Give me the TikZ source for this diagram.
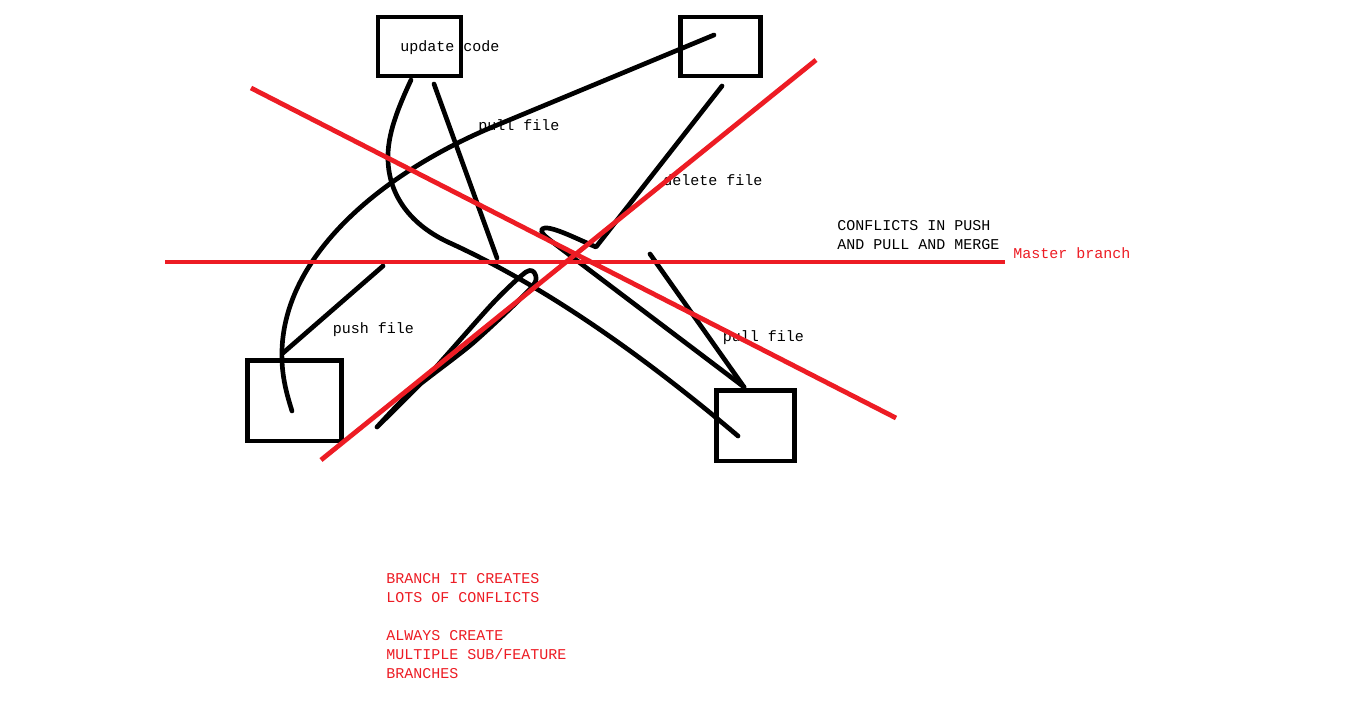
\documentclass[tikz,border=0pt]{standalone}
\usepackage{fontspec}
\setmonofont{Liberation Mono}
\definecolor{paintred}{RGB}{237,28,36}
\begin{document}
\begin{tikzpicture}[x=0.75pt,y=-0.75pt,
  box/.style={draw=black,line width=3.5pt,inner sep=0pt,outer sep=0pt},
  ink/.style={draw=black,line width=3.5pt,line cap=round,line join=round},
  branch/.style={draw=paintred,line width=3.6pt},
  lbl/.style={font=\ttfamily\fontsize{11.25pt}{14.25pt}\selectfont,anchor=base west,inner sep=0pt,text=black},
  rlbl/.style={lbl,text=paintred}]
\useasboundingbox[fill=white] (0,0) rectangle (1355,716);

% labels (the strokes are drawn over them)
\node[lbl] (tUpdate) at (400,51.5) {update code};
\node[lbl] (tPullA) at (478,131) {pull file};
\node[lbl] (tDelete) at (663,185.5) {delete file};
\node[lbl] (tConfA) at (837,231) {CONFLICTS IN PUSH};
\node[lbl] (tConfB) at (837,250) {AND PULL AND MERGE};
\node[rlbl] (tMaster) at (1013,259) {Master branch};
\node[lbl] (tPush) at (332.5,333.5) {push file};
\node[lbl] (tPullD) at (722.5,341) {pull file};
\node[rlbl] (n1) at (386,583.5) {BRANCH IT CREATES};
\node[rlbl] (n2) at (386,602.5) {LOTS OF CONFLICTS};
\node[rlbl] (n3) at (386,640) {ALWAYS CREATE};
\node[rlbl] (n4) at (386,659) {MULTIPLE SUB/FEATURE};
\node[rlbl] (n5) at (386,678) {BRANCHES};

% boxes
\node[box,minimum width=62.25pt,minimum height=44.25pt] (A) at (419.5,46.5) {};
\node[box,minimum width=60pt,minimum height=44.25pt] (B) at (720.5,46.5) {};
\node[box,minimum width=70.65pt,minimum height=60.4pt] (C) at (294.6,400.75) {};
\node[box,minimum width=58.2pt,minimum height=52.9pt] (D) at (755.5,425.75) {};

% stroke end points
\coordinate (bIn) at (714,35);
\coordinate (cIn) at (292,411);
\coordinate (aL) at (411,80);
\coordinate (dIn) at (738,436);
\coordinate (aR) at (434,84);
\coordinate (aRend) at (497,258);
\coordinate (bLow) at (722,86);
\coordinate (dTop) at (744,387);
\coordinate (pushTop) at (383,266);
\coordinate (cTop) at (283,353);
\coordinate (pullTop) at (650,254);

% long stroke from B down into C
\draw[ink] (bIn) -- (490,128)
  .. controls (380,175) and (285,255) .. (282,350)
  .. controls (281,375) and (287,395) .. (cIn);
% stroke from A curving down into D
\draw[ink] (aL) .. controls (398,108) and (387,135) .. (388,160)
  .. controls (389,195) and (410,225) .. (450,243)
  .. controls (531,280) and (626,341) .. (dIn);
% pull file from A
\draw[ink] (aR) -- (aRend);
% delete file from B with the hook, on to D
\draw[ink] (bLow) -- (596,247) .. controls (575,238) and (548,224) .. (542,229)
  .. controls (540,233) and (545,236) .. (555,244) -- (dTop);
% pull file into D
\draw[ink] (pullTop) -- (dTop);
% push file from C
\draw[ink] (pushTop) -- (cTop);
% narrow loop
\draw[ink] plot[smooth,tension=0.45] coordinates {(377,427) (427,377) (493,303) (526,272) (535,274) (531,288) (473,343) (413,390) (377,427)};

% master branch and crossing-out strokes
\coordinate (m0) at (165,262);
\coordinate (m1) at (1005,262);
\draw[branch] (m0) -- (m1);
\coordinate (x0) at (251,88);
\coordinate (x1) at (896,418);
\draw[branch] (x0) -- (x1);
\coordinate (y0) at (321,460);
\coordinate (y1) at (816,60);
\draw[branch] (y0) -- (y1);
\end{tikzpicture}
\end{document}
